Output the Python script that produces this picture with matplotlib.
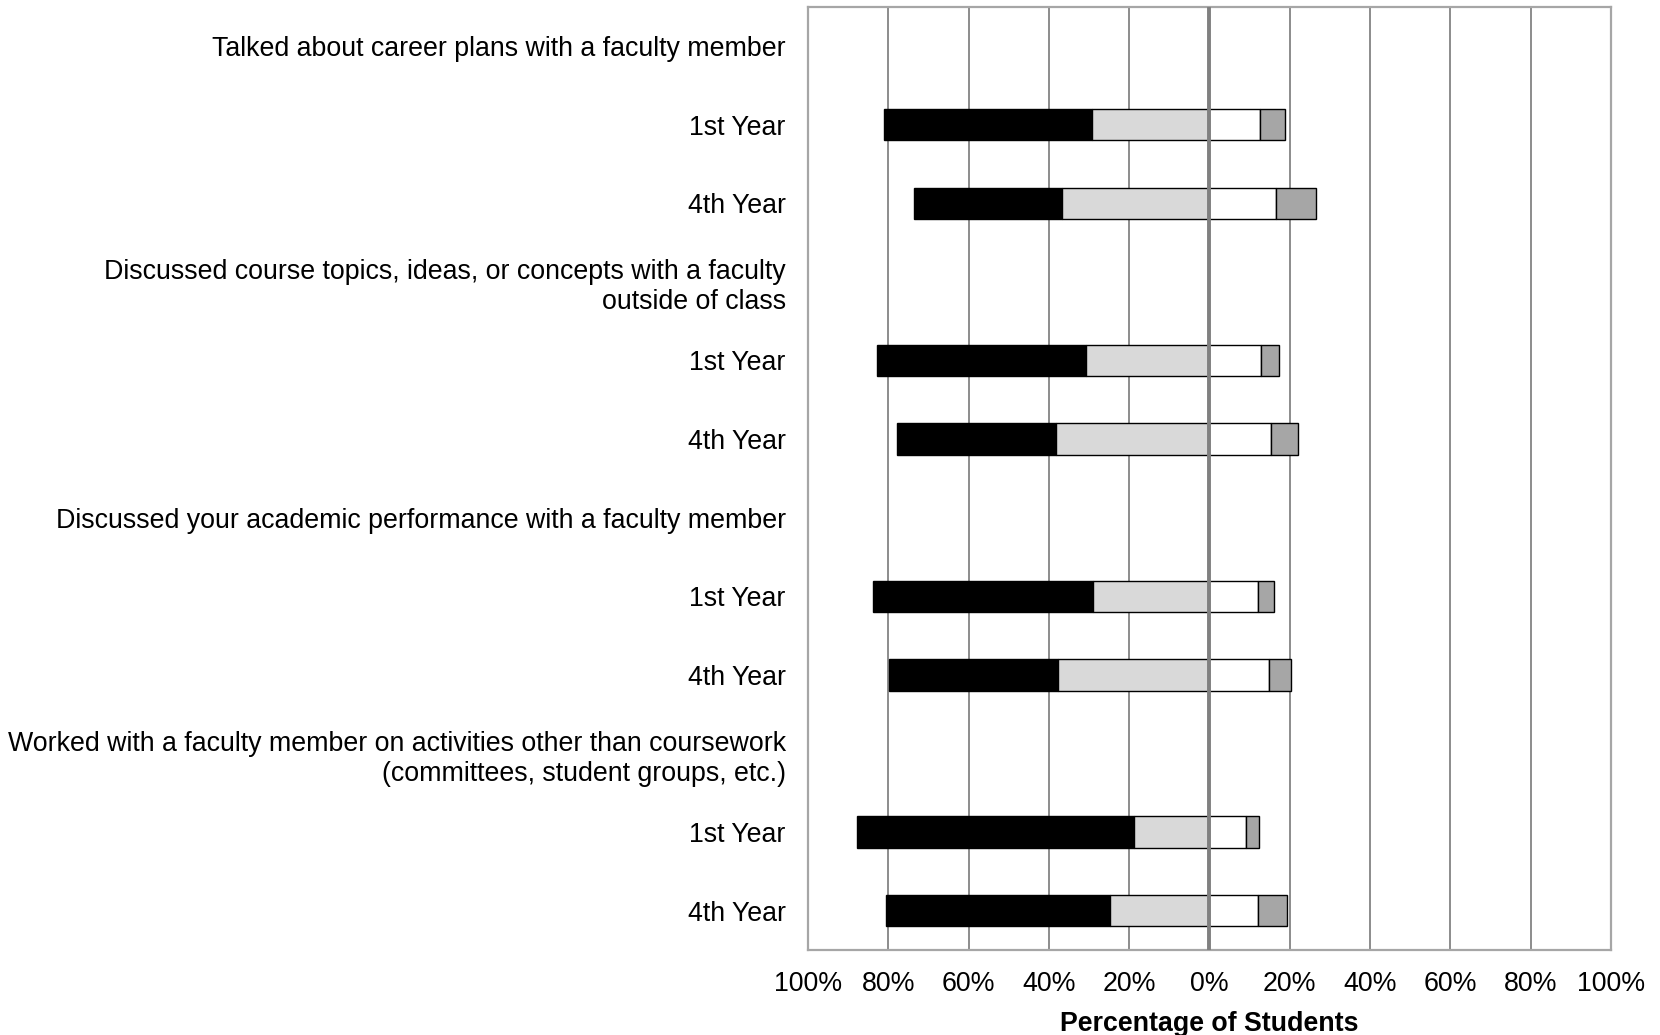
import matplotlib
matplotlib.use('Agg')
import matplotlib.pyplot as plt
import numpy as np

plt.rcParams['font.family'] = ['Liberation Sans', 'DejaVu Sans']

# row labels, top to bottom (headings have no bars)
row_labels = [
    'Talked about career plans with a faculty member',
    '1st Year',
    '4th Year',
    'Discussed course topics, ideas, or concepts with a faculty\noutside of class',
    '1st Year',
    '4th Year',
    'Discussed your academic performance with a faculty member',
    '1st Year',
    '4th Year',
    'Worked with a faculty member on activities other than coursework\n(committees, student groups, etc.)',
    '1st Year',
    '4th Year',
]
bar_rows = [1, 2, 4, 5, 7, 8, 10, 11]

# percentages per response (left side: never, sometimes; right side: often, very often)
never = [51.8, 36.7, 52.0, 39.8, 54.8, 42.0, 68.9, 55.8]
sometimes = [29.3, 36.8, 30.8, 38.1, 29.1, 37.7, 18.8, 24.8]
often = [12.7, 16.5, 12.8, 15.2, 12.2, 14.9, 9.0, 12.2]
very_often = [6.2, 10.0, 4.4, 6.9, 3.9, 5.4, 3.3, 7.2]

ticks = [-100, -80, -60, -40, -20, 0, 20, 40, 60, 80, 100]
tick_labels = ['100%', '80%', '60%', '40%', '20%', '0%', '20%', '40%', '60%', '80%', '100%']

fig = plt.figure(figsize=(16.6, 10.35), dpi=100)
ax = fig.add_axes([0.4867, 0.0821, 0.4838, 0.9114])

never = np.array(never)
sometimes = np.array(sometimes)
often = np.array(often)
very_often = np.array(very_often)

h = 0.4
kw = dict(height=h, edgecolor='black', linewidth=1.0, zorder=2)
ax.barh(bar_rows, never, left=-(never + sometimes), color='black', **kw)
ax.barh(bar_rows, sometimes, left=-sometimes, color='#d9d9d9', **kw)
ax.barh(bar_rows, often, left=0, color='white', **kw)
ax.barh(bar_rows, very_often, left=often, color='#a6a6a6', **kw)

ax.axvline(0, color='#808080', linewidth=2.8, zorder=3)

ax.set_xlim(-100, 100)
ax.set_ylim(11.5, -0.5)
ax.set_xticks(ticks)
ax.set_xticklabels(tick_labels, fontsize=19.3)
ax.set_yticks(range(len(row_labels)))
ax.set_yticklabels(row_labels, fontsize=19.3)
ax.tick_params(axis='both', length=0)
ax.tick_params(axis='y', pad=16)
ax.tick_params(axis='x', pad=15)

ax.xaxis.grid(True, color='#8c8c8c', linewidth=1.4)
ax.set_axisbelow(True)
for s in ax.spines.values():
    s.set_color('#a6a6a6')
    s.set_linewidth(1.6)

ax.set_xlabel('Percentage of Students', fontsize=19.3, fontweight='bold', labelpad=10)

fig.savefig('out.png', dpi=100)
